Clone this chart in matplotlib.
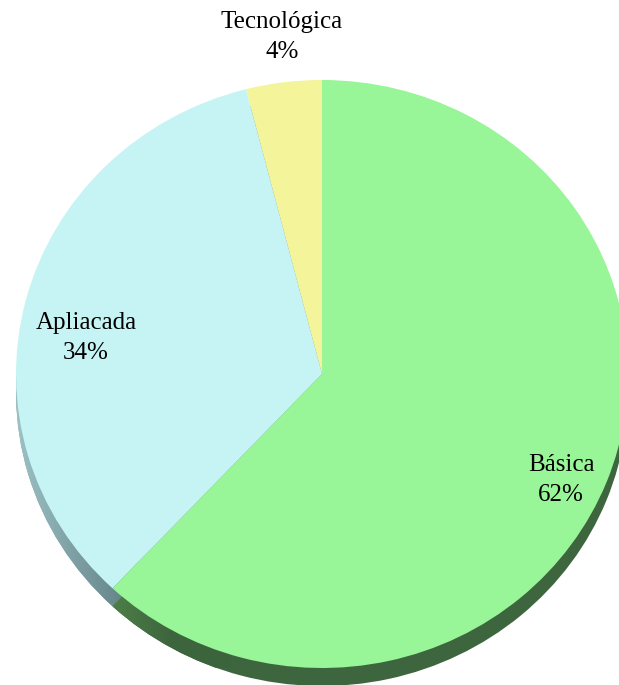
import numpy as np
import matplotlib
matplotlib.use("Agg")
import matplotlib.pyplot as plt
from matplotlib.colors import LinearSegmentedColormap

# data
labels = ["Tecnológica", "Apliacada", "Básica"]
values = [4, 34, 62]
face_colors = ["#F4F49A", "#C6F4F4", "#98F598"]
side_colors = ["#9A9A5A", "#7E9EA4", "#3E663E"]

W, H = 619, 685
fig = plt.figure(figsize=(W / 100, H / 100), dpi=100)

# pie centre / radii in pixels (ellipse)
cx, cy, rx, ry = 322, 374, 306, 294
ax = fig.add_axes([(cx - rx) / W, (H - cy - ry) / H, 2 * rx / W, 2 * ry / H])
ax.axis("off")

depth = 18 / ry

# extruded side (shadow copy shifted down)
side, _ = ax.pie(values, colors=side_colors, startangle=90, center=(0, -depth),
                 radius=1, wedgeprops=dict(linewidth=0))

# gradient on the cyan side
grad = np.linspace(0, 1, 256).reshape(1, -1)
cmap = LinearSegmentedColormap.from_list("side", ["#9CC2C4", "#7C9EA3", "#5E7C80"])
im = ax.imshow(grad, cmap=cmap, extent=(-1, -0.6, -1.2, 0.2), aspect="auto", zorder=1.5)
im.set_clip_path(side[1])
side[1].set_zorder(1)
cmap_g = LinearSegmentedColormap.from_list("sideg", ["#4E8048", "#3E663E", "#3C643C"])
im2 = ax.imshow(grad, cmap=cmap_g, extent=(-0.7, -0.3, -1.2, 0.2), aspect="auto", zorder=1.5)
im2.set_clip_path(side[2])

faces, _ = ax.pie(values, colors=face_colors, startangle=90, radius=1,
                  wedgeprops=dict(linewidth=0))
for w in faces:
    w.set_zorder(3)
for w in list(side) + list(faces):
    w.set_clip_on(False)

ax.set_xlim(-1, 1)
ax.set_ylim(-1, 1)
ax.set_aspect("auto")

# labels (pixel positions of label centres)
label_pos = [(282, 37), (86, 338), (561, 480)]
for name, v, (px, py) in zip(labels, values, label_pos):
    fig.text(px / W, 1 - py / H, f"{name}\n{v}%", ha="center", va="center",
             fontsize=18, family="Liberation Serif", linespacing=1.45, zorder=5)

fig.savefig("out.png", dpi=100, facecolor="white")
